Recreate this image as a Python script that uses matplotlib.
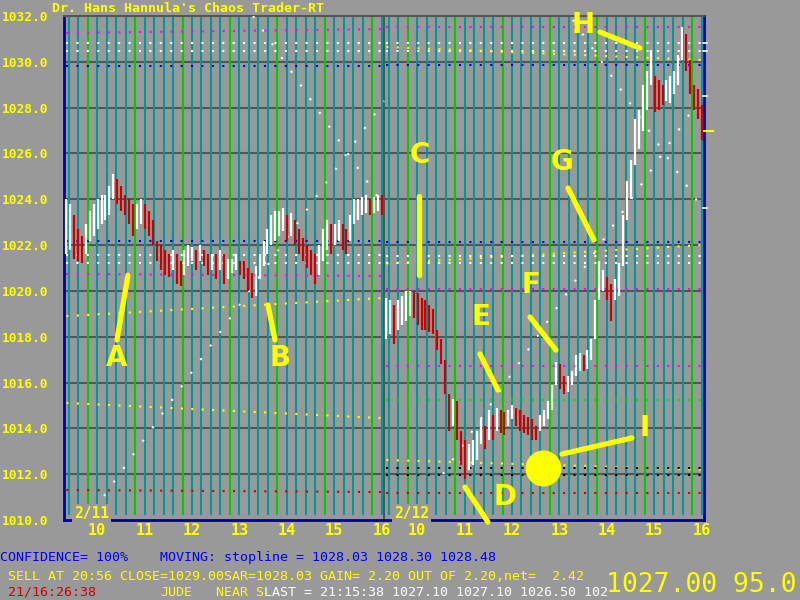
import numpy as np
import matplotlib.pyplot as plt

# ---- data ----
day_labels = ['2/11', '2/12']
hour_labels = [10, 11, 12, 13, 14, 15, 16]
price_levels = [1010, 1012, 1014, 1016, 1018, 1020, 1022, 1024, 1026, 1028, 1030, 1032]

# 5 minute bars, 9:30 - 16:15
d1_high = [1024.0, 1023.8, 1023.3, 1022.7, 1022.4, 1022.9, 1023.5, 1023.8, 1024.0, 1024.2,
           1024.2, 1024.6, 1025.1, 1024.9, 1024.6, 1024.2, 1024.0, 1023.8, 1023.8, 1024.0,
           1023.8, 1023.5, 1023.1, 1022.2, 1022.0, 1021.8, 1021.6, 1021.8, 1021.6, 1021.3,
           1021.8, 1022.0, 1021.9, 1021.8, 1022.0, 1021.8, 1021.6, 1021.6, 1021.6, 1021.8,
           1021.6, 1021.4, 1021.4, 1021.6, 1021.3, 1021.3, 1021.0, 1020.8, 1021.1, 1021.6,
           1022.2, 1022.7, 1023.3, 1023.5, 1023.5, 1023.6, 1023.3, 1023.4, 1023.1, 1022.7,
           1022.3, 1022.0, 1021.8, 1021.6, 1022.0, 1022.7, 1023.1, 1022.9, 1022.9, 1023.1,
           1022.9, 1022.7, 1023.3, 1024.0, 1024.0, 1024.1, 1024.2, 1024.0, 1024.1, 1024.2,
           1024.2]
d1_low = [1021.6, 1021.8, 1021.4, 1021.3, 1021.2, 1021.6, 1022.2, 1022.4, 1022.7, 1022.9,
          1023.1, 1023.3, 1024.0, 1023.8, 1023.5, 1023.3, 1022.9, 1022.4, 1022.7, 1022.9,
          1022.7, 1022.4, 1022.0, 1021.3, 1020.9, 1020.7, 1020.6, 1020.9, 1020.3, 1020.2,
          1020.7, 1021.1, 1021.3, 1020.9, 1021.3, 1021.1, 1020.7, 1020.9, 1020.5, 1020.9,
          1020.3, 1020.5, 1020.8, 1020.9, 1020.7, 1020.5, 1020.0, 1019.7, 1019.8, 1020.5,
          1021.1, 1021.6, 1022.0, 1022.2, 1022.4, 1022.6, 1022.2, 1022.4, 1022.0, 1021.6,
          1021.3, 1021.0, 1020.7, 1020.3, 1020.7, 1021.3, 1021.8, 1021.6, 1022.0, 1022.2,
          1021.8, 1021.6, 1022.2, 1022.9, 1023.1, 1023.3, 1023.4, 1023.3, 1023.4, 1023.5,
          1023.3]
d2_high = [1019.7, 1019.6, 1019.4, 1019.6, 1019.8, 1020.0, 1020.0, 1020.0, 1019.9, 1019.7,
           1019.6, 1019.4, 1019.2, 1018.3, 1017.9, 1017.0, 1015.5, 1015.3, 1015.2, 1013.9,
           1013.5, 1013.3, 1013.5, 1013.9, 1014.4, 1014.1, 1014.8, 1014.6, 1014.9, 1014.8,
           1014.7, 1014.8, 1015.0, 1014.9, 1014.8, 1014.6, 1014.5, 1014.4, 1014.1, 1014.6,
           1014.8, 1015.2, 1015.9, 1016.9, 1016.8, 1016.3, 1016.3, 1016.5, 1017.2, 1017.3,
           1017.2, 1017.4, 1017.9, 1019.6, 1021.3, 1020.9, 1020.6, 1020.3, 1020.5, 1021.2,
           1023.3, 1024.8, 1025.7, 1027.5, 1027.9, 1029.0, 1029.6, 1030.5, 1029.4, 1029.2,
           1029.0, 1029.2, 1029.4, 1029.6, 1030.3, 1031.5, 1031.2, 1030.1, 1029.0, 1028.8,
           1028.1]
d2_low = [1017.9, 1018.1, 1017.7, 1018.3, 1018.5, 1018.7, 1018.9, 1018.8, 1018.5, 1018.3,
          1018.3, 1018.2, 1018.1, 1017.4, 1016.8, 1015.5, 1013.9, 1014.1, 1013.5, 1012.4,
          1011.8, 1012.2, 1012.4, 1012.6, 1013.3, 1013.1, 1013.5, 1013.5, 1013.9, 1013.8,
          1013.7, 1014.1, 1014.4, 1014.1, 1013.9, 1013.8, 1013.7, 1013.5, 1013.5, 1013.9,
          1014.1, 1014.4, 1014.8, 1015.9, 1015.7, 1015.5, 1015.6, 1015.9, 1016.3, 1016.5,
          1016.5, 1016.6, 1017.0, 1017.9, 1019.6, 1020.0, 1019.6, 1018.7, 1019.6, 1019.8,
          1021.1, 1023.1, 1024.0, 1025.5, 1026.2, 1027.0, 1027.9, 1029.0, 1027.8, 1027.9,
          1028.1, 1028.3, 1028.2, 1028.6, 1029.0, 1030.1, 1029.6, 1028.6, 1027.9, 1027.5,
          1026.6]
last_price = 1027.0

# dotted support / resistance levels (day, price at open, price at close, kind)
guide_day = [0, 0, 0, 0, 0, 0, 0, 0, 0, 0, 0,
             1, 1, 1, 1, 1, 1, 1, 1, 1, 1, 1, 1, 1, 1, 1, 1]
guide_start = [1031.26, 1030.81, 1030.46, 1029.82, 1022.20, 1021.57, 1021.22, 1020.74, 1018.90, 1015.11, 1011.31,
               1031.50, 1030.81, 1030.46, 1030.65, 1029.86, 1022.13, 1021.20, 1021.52, 1021.22, 1020.08, 1016.72,
               1015.24, 1012.62, 1012.27, 1011.20, 1011.95]
guide_end = [1031.43, 1030.81, 1030.46, 1029.82, 1022.20, 1021.57, 1021.22, 1020.65, 1019.69, 1014.45, 1011.22,
             1031.50, 1030.81, 1030.46, 1030.08, 1029.86, 1022.13, 1022.00, 1021.52, 1021.22, 1020.08, 1016.72,
             1015.24, 1012.20, 1012.27, 1011.20, 1011.95]
guide_kind = ['m', 'w', 'w', 'b', 'b', 'w', 'w', 'm', 'y', 'y', 'r',
              'm', 'w', 'w', 'y', 'b', 'b', 'y', 'w', 'w', 'm', 'm',
              'g', 'y', 'k', 'r', 'k']

# angle (gann) lines: (x0, p0, x1, p1) in session hours
angle_x0 = [3.987, 0.844, 7.994, 10.736]
angle_p0 = [1032.0, 1011.05, 1012.01, 1031.83]
angle_x1 = [6.75, 6.75, 13.5, 13.5]
angle_p1 = [1023.71, 1028.29, 1028.64, 1023.49]

# hand drawn markers
marks = ['A', 'B', 'C', 'D', 'E', 'F', 'G', 'H', 'I']
mark_x = [1.118, 4.556, 7.509, 9.302, 8.796, 9.850, 10.504, 10.947, 12.255]
mark_p = [1017.07, 1017.07, 1025.93, 1011.00, 1018.86, 1020.26, 1025.63, 1031.61, 1014.02]
ptr_x0 = [1.118, 4.451, 7.488, 8.458, 8.775, 9.829, 10.631, 11.306, 10.504]
ptr_p0 = [1017.86, 1017.86, 1024.14, 1011.44, 1017.25, 1018.86, 1024.49, 1031.30, 1012.88]
ptr_x1 = [1.350, 4.303, 7.488, 8.943, 9.154, 10.377, 11.179, 12.149, 11.981]
ptr_p1 = [1020.69, 1019.39, 1020.69, 1009.91, 1015.67, 1017.42, 1022.22, 1030.60, 1013.58]
dot_x, dot_p = 10.103, 1012.27

# ---- drawing ----
BG = '#999999'
YEL = '#ffff00'
MONO = 'DejaVu Sans Mono'
session = 6.75
colors = {'m': '#ff00ff', 'w': '#ffffff', 'b': '#0000ee', 'y': '#ffff00',
          'r': '#cc0000', 'g': '#00dd00', 'k': '#000000'}

fig = plt.figure(figsize=(8, 6), dpi=100, facecolor=BG)
ax = fig.add_axes([0.08, 0.1333, 0.8, 0.84], facecolor=BG)
ax.set_xlim(0, 2 * session)
ax.set_ylim(1010, 1032)

# horizontal price grid
ax.hlines(price_levels[1:-1], 0, 2 * session, colors='#555555', lw=1.5, zorder=1)

# 12 minute vertical lines, green on the hour
for d in range(2):
    for k in range(34):
        m = 0.1 + 0.2 * k
        r = (m - 0.5) % 1.0
        on_hour = r < 1e-6 or abs(r - 1) < 1e-6
        ax.vlines(d * session + m, 1010.2, 1032, colors='#00cc00' if on_hour else '#009999',
                  lw=1.5, zorder=2)
ax.axvline(session, color='#555555', lw=1.5, zorder=2)

# dotted levels
for d, p0, p1, kd in zip(guide_day, guide_start, guide_end, guide_kind):
    ax.plot([d * session + 0.05, (d + 1) * session - 0.05], [p0, p1], color=colors[kd],
            lw=1.5, ls=(0, (1, 4)), zorder=3)

# angle lines
for x0, p0, x1, p1 in zip(angle_x0, angle_p0, angle_x1, angle_p1):
    ax.plot([x0, x1], [p0, p1], color='white', lw=1.5, ls=(0, (1, 7)), zorder=3)

# price bars
for d, hi, lo in ((0, d1_high, d1_low), (1, d2_high, d2_low)):
    hi = np.array(hi)
    lo = np.array(lo)
    n = len(hi)
    x = d * session + (np.arange(n) + 0.5) * session / n
    mid = (hi + lo) / 2
    down = np.r_[False, mid[1:] < mid[:-1]]
    cols = np.where(down, '#cc0000', '#ffffff')
    ax.vlines(x, lo, hi, colors=cols, lw=1.6, zorder=4)

# right edge ticks
ax.plot([2 * session, 2 * session + 0.2], [last_price, last_price], color=YEL, lw=1.5,
        clip_on=False, zorder=5)
for p in (1030.81, 1030.46, 1028.5, 1023.6):
    ax.plot([2 * session - 0.02, 2 * session + 0.06], [p, p], color='white', lw=1.2,
            clip_on=False, zorder=5)

# annotations
for t, x, p in zip(marks, mark_x, mark_p):
    ax.text(x, p, t, color=YEL, fontsize=20, fontweight='bold', ha='center', va='center',
            family='DejaVu Sans', zorder=6)
for x0, p0, x1, p1 in zip(ptr_x0, ptr_p0, ptr_x1, ptr_p1):
    ax.plot([x0, x1], [p0, p1], color=YEL, lw=3.8, solid_capstyle='round', clip_on=False, zorder=6)
ax.scatter([dot_x], [dot_p], s=620, color=YEL, zorder=6)

# date labels inside plot
for d, lab in enumerate(day_labels):
    ax.text(d * session + 0.21, 1010.3, lab, color=YEL, fontsize=10.5, fontweight='bold',
            family=MONO, ha='left', va='center', zorder=7,
            bbox=dict(facecolor=BG, edgecolor='none', pad=1.5))

# axes ticks
ax.set_yticks(price_levels)
ax.set_yticklabels([f'{v:.1f}' for v in price_levels])
ax.tick_params(axis='y', length=0, pad=11.5, labelcolor=YEL, labelsize=9.3)
xt = [d * session + (h - 9.5) + 0.2 for d in range(2) for h in hour_labels]
ax.set_xticks(xt)
ax.set_xticklabels([str(h) for d in range(2) for h in hour_labels])
ax.tick_params(axis='x', length=0, pad=2, labelcolor=YEL, labelsize=11)
for lab in ax.get_xticklabels() + ax.get_yticklabels():
    lab.set_family(MONO)
    lab.set_fontweight('bold')

for s in ('left', 'bottom', 'right'):
    ax.spines[s].set_color('#0000aa')
    ax.spines[s].set_linewidth(2)
ax.spines['top'].set_color('#555555')
ax.spines['top'].set_linewidth(1.5)

# header / status text
fig.text(52 / 800, 1 - 8 / 600, "Dr. Hans Hannula's Chaos Trader-RT", color=YEL, fontsize=9.6,
         family=MONO, fontweight='bold', va='center')
fig.text(0, 1 - 557 / 600, "CONFIDENCE= 100%    MOVING: stopline = 1028.03 1028.30 1028.48",
         color='#0000f0', fontsize=9.6, family=MONO, va='center')
fig.text(0, 1 - 576 / 600, " SELL AT 20:56 CLOSE=1029.00SAR=1028.03 GAIN= 2.20 OUT OF 2.20,net=  2.42",
         color=YEL, fontsize=9.6, family=MONO, va='center')
fig.text(8 / 800, 1 - 592 / 600, "21/16:26:38", color='#cc0000', fontsize=9.6, family=MONO, va='center')
fig.text(160 / 800, 1 - 592 / 600, "JUDE", color=YEL, fontsize=9.6, family=MONO, va='center')
fig.text(216 / 800, 1 - 592 / 600, "NEAR S", color=YEL, fontsize=9.6, family=MONO, va='center')
fig.text(264 / 800, 1 - 592 / 600, "LAST = 21:15:38 1027.10 1027.10 1026.50 102", color='white',
         fontsize=9.6, family=MONO, va='center')
fig.text(606 / 800, 1 - 585 / 600, "1027.00 95.0", color=YEL, fontsize=19, family=MONO,
         va='center')

fig.savefig('out.png', dpi=100, facecolor=BG)
